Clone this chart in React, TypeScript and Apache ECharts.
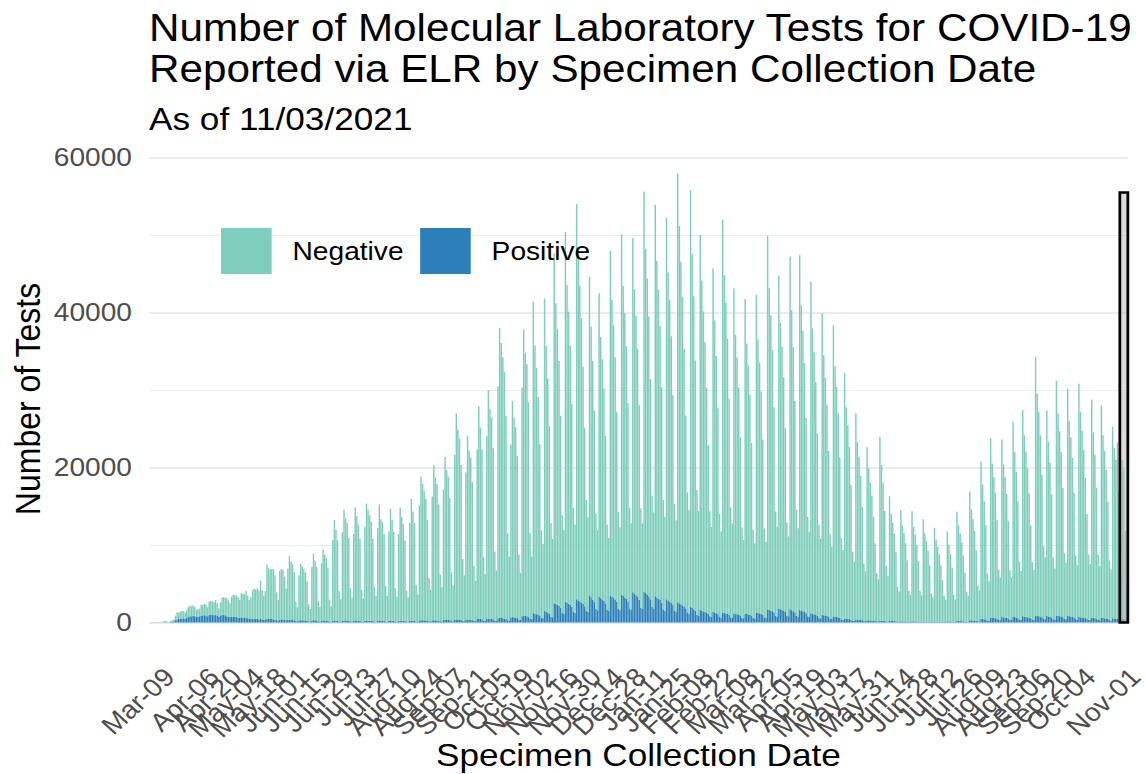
import React, { useEffect, useRef } from "react";
import * as echarts from "echarts";

// ---------- categories ----------
const FIRST_DATE = "2020-03-03";
const FIRST_TICK_LABEL_DATE = "2020-03-09";
const TICK_STEP_DAYS = 14;
const INCOMPLETE_FROM = "2021-10-29";
const INCOMPLETE_TO = "2021-11-02";
const INCOMPLETE_TOP = 55500;
const MONTHS = ["Jan", "Feb", "Mar", "Apr", "May", "Jun", "Jul", "Aug", "Sep", "Oct", "Nov", "Dec"];
const Y_TICKS = [0, 20000, 40000, 60000];

// ---------- values (hundreds of tests per day) ----------
const negativeSpring2020 = [
  0.2, 0.3, 0.3, 0.5, 0.2, 0.2,
  0.5, 0.8, 1.1, 1.3, 1.7, 0.8, 0.7,
  1.5, 2, 2.5, 6, 9, 8.5, 9.5,
  10, 9.5, 8, 10, 13, 14, 13,
  13.5, 12, 9, 10, 10, 14, 14,
  14.5, 14, 12, 17, 18, 17, 16.5,
  19, 16, 11, 17, 22, 23, 22.5,
  23.5, 21, 18, 26, 28, 28.5, 27.5,
  26, 23, 31, 31, 30.5, 34.5, 29,
  24, 27.5, 37, 39, 38.5, 39.5, 37,
  49.5, 38, 31, 36.5, 70.5, 66, 64,
  65, 64.5, 57, 36, 26.5, 63, 65,
  64, 55.5, 41,
];
const positiveSpring2020 = [
  0, 0, 0, 0, 0, 0,
  0, 0, 0.1, 0.2, 0.3, 0.2, 0.1,
  0.5, 1, 1.5, 3, 4, 4.5, 4.5,
  5, 5.5, 5, 6, 7, 8, 8,
  8.5, 8, 7, 7, 8, 9, 9,
  9.5, 9, 8, 10, 10, 10, 9.5,
  10, 9, 7, 9, 10, 10, 9.5,
  8, 7.5, 7, 7.5, 7.5, 7, 7,
  6.5, 6, 6.5, 6.5, 6, 6, 5.5,
  5, 5, 5, 5, 4.5, 4.5, 4,
  4.5, 4, 3.5, 4, 4.5, 4.5, 4.5,
  4.5, 4, 4, 3, 2.5, 4, 4,
  4, 3.5, 3,
];
const negativeSummer2020 = [
  66, 82, 75, 72, 62, 25, 18,
  58, 73, 69, 66, 62, 51, 22, 16,
  69, 86, 77, 69, 26, 19,
  74, 92, 85, 81, 69, 28, 20,
  104, 130, 117, 104, 39, 29,
  114, 143, 132, 126, 107, 43, 31,
  112, 146, 135, 124, 106, 41, 30,
  121, 151, 143, 136, 128, 106, 45, 33,
  120, 150, 131, 127, 112, 46, 33,
  115, 144, 130, 115, 43, 32,
  112, 146, 134, 125, 104, 40, 31,
];
const positiveSummer2020 = [
  3.2, 3.5, 3.3, 3.2, 2.8, 1.8, 1.6,
  2.7, 3, 2.9, 2.8, 2.6, 2.2, 1.5, 1.4,
  2.7, 3, 2.8, 2.5, 1.5, 1.4,
  2.3, 2.5, 2.4, 2.3, 2, 1.3, 1.1,
  2.3, 2.5, 2.3, 2.1, 1.3, 1.1,
  2.4, 2.6, 2.5, 2.3, 2.1, 1.4, 1.2,
  2.2, 2.4, 2.3, 2.2, 1.9, 1.2, 1.0,
  2.3, 2.5, 2.4, 2.3, 2.2, 2, 1.3, 1.1,
  2.1, 2.3, 2.2, 2.1, 1.9, 1.2, 1.0,
  2.3, 2.5, 2.3, 2.1, 1.3, 1.1,
  2.2, 2.4, 2.3, 2.2, 1.9, 1.2, 1.1,
];
const negativeFall2020 = [
  126, 157, 141, 126, 47, 35,
  148, 185, 176, 167, 157, 130, 56, 41,
  160, 200, 184, 176, 150, 60, 44,
  168, 210, 193, 185, 158, 63, 46,
  213, 266, 245, 234, 200, 80, 59,
  190, 237, 218, 209, 178, 71, 52,
  219, 274, 247, 219, 82, 60,
  236, 295, 271, 260, 221, 89, 65,
  299, 374, 355, 337, 318, 262, 112, 82,
  223, 279, 257, 246, 209, 84, 61,
  295, 369, 339, 325, 277, 111, 81,
];
const positiveFall2020 = [
  2.3, 2.5, 2.3, 2.1, 1.3, 1.1,
  2.7, 3, 2.9, 2.8, 2.6, 2.2, 1.5, 1.4,
  2.7, 3, 2.9, 2.7, 2.4, 1.5, 1.4,
  3.2, 3.5, 3.3, 3.2, 2.8, 1.8, 1.6,
  3.6, 4, 3.8, 3.6, 3.2, 2, 1.8,
  3.5, 3.9, 3.7, 3.5, 3.1, 2, 1.8,
  4.5, 5, 4.7, 4.2, 2.5, 2.2,
  4.5, 5, 4.8, 4.5, 4, 2.5, 2.2,
  5.4, 6, 5.7, 5.4, 5.1, 4.5, 3, 2.7,
  6.3, 7, 6.7, 6.3, 5.6, 3.5, 3.2,
  8.1, 9, 8.6, 8.1, 7.2, 4.5, 4.1,
];
const negativeWinter2021 = [
  402, 346, 318, 281, 221, 113, 96,
  403, 343, 302, 242, 121, 101,
  451, 388, 356, 316, 248, 126, 108,
  477, 410, 377, 334, 262, 134, 114,
  510, 449, 408, 367, 306, 230, 143, 122,
  411, 349, 308, 247, 123, 103,
  392, 337, 310, 274, 216, 110, 94,
  445, 383, 352, 312, 245, 125, 107,
  465, 400, 367, 326, 256, 130, 112,
  457, 393, 361, 320, 251, 128, 110,
  516, 444, 408, 361, 284, 144, 124,
  505, 434, 399, 354, 278, 141, 121,
  492, 423, 389, 344, 271, 138, 118,
  553, 487, 442, 398, 332, 249, 155, 133,
  538, 457, 404, 323, 161, 135,
  484, 426, 387, 348, 290, 218, 136, 116,
];
const positiveWinter2021 = [
  12, 11.4, 10.8, 10.2, 9, 6, 5.4,
  15, 14, 12.8, 11.3, 7.5, 6.8,
  25, 23.8, 22.5, 21.3, 18.8, 12.5, 11.3,
  27, 25.7, 24.3, 23, 20.3, 13.5, 12.2,
  30, 28.5, 27, 25.5, 24, 21, 15, 13.5,
  35, 32.6, 29.8, 26.3, 17.5, 15.8,
  33, 31.4, 29.7, 28, 24.8, 16.5, 14.9,
  35, 33.3, 31.5, 29.8, 26.3, 17.5, 15.8,
  36, 34.2, 32.4, 30.6, 27, 18, 16.2,
  39, 37, 35.1, 33.2, 29.3, 19.5, 17.6,
  40, 38, 36, 34, 30, 20, 18,
  34, 32.3, 30.6, 28.9, 25.5, 17, 15.3,
  30, 28.5, 27, 25.5, 22.5, 15, 13.5,
  26, 24.7, 23.4, 22.1, 20.8, 18.2, 13, 11.7,
  20, 18.6, 17, 15, 10, 9,
  16, 15.2, 14.4, 13.6, 12.8, 11.2, 8, 7.2,
];
const negativeSpring2021 = [
  443, 377, 332, 266, 133, 111,
  507, 436, 401, 355, 279, 142, 122,
  419, 360, 331, 293, 230, 117, 101,
  406, 349, 321, 284, 223, 114, 97,
  410, 353, 324, 287, 226, 115, 98,
  482, 415, 381, 337, 265, 135, 116,
  430, 370, 340, 301, 237, 120, 103,
  455, 387, 341, 273, 137, 114,
  458, 394, 362, 321, 252, 128, 110,
  428, 368, 338, 300, 235, 120, 103,
  389, 335, 307, 272, 214, 109, 93,
  376, 323, 297, 263, 207, 105, 90,
  317, 273, 250, 222, 174, 89, 76,
  266, 229, 210, 186, 146, 74, 64,
  223, 196, 178, 161, 134, 100, 62, 54,
  237, 201, 178, 142, 71, 59,
  161, 138, 127, 113, 89, 45, 39,
  144, 124, 114, 101, 79, 40, 35,
  142, 122, 112, 99, 78, 40, 34,
  132, 114, 104, 92, 73, 37, 32,
  121, 106, 97, 87, 73, 54, 34, 29,
  116, 99, 87, 70, 35, 29,
];
const positiveSpring2021 = [
  14, 13, 11.9, 10.5, 7, 6.3,
  13, 12.4, 11.7, 11, 9.8, 6.5, 5.9,
  12, 11.4, 10.8, 10.2, 9, 6, 5.4,
  11.5, 11, 10.5, 9.8, 8.7, 5.8, 5.2,
  13, 12.4, 11.7, 11, 9.8, 6.5, 5.9,
  17, 16.2, 15.3, 14.5, 12.8, 8.5, 7.7,
  18, 17.1, 16.2, 15.3, 13.5, 9, 8.1,
  17, 15.8, 14.5, 12.8, 8.5, 7.7,
  16, 15.2, 14.4, 13.6, 12, 8, 7.2,
  12, 11.4, 10.8, 10.2, 9, 6, 5.4,
  10, 9.5, 9, 8.5, 7.5, 5, 4.5,
  8, 7.6, 7.2, 6.8, 6, 4, 3.6,
  5, 4.8, 4.5, 4.3, 3.8, 2.5, 2.3,
  4, 3.8, 3.6, 3.4, 3, 2, 1.8,
  3, 2.9, 2.7, 2.6, 2.4, 2.1, 1.5, 1.4,
  2.5, 2.3, 2.1, 1.9, 1.3, 1.1,
  2, 1.9, 1.8, 1.7, 1.5, 1, 0.9,
  1.5, 1.4, 1.4, 1.3, 1.1, 0.8, 0.7,
  1.5, 1.4, 1.3, 1.3, 1.1, 0.8, 0.7,
  1.2, 1.1, 1.1, 1, 0.9, 0.6, 0.5,
  1.2, 1.1, 1.1, 1, 1, 0.8, 0.6, 0.5,
  1.5, 1.4, 1.3, 1.1, 0.8, 0.7,
];
const negativeFall2021 = [
  141, 124, 113, 102, 85, 63, 39, 34,
  166, 143, 131, 116, 91, 46, 40,
  203, 173, 152, 122, 61, 51,
  231, 199, 182, 162, 127, 65, 55,
  229, 197, 181, 160, 126, 64, 55,
  251, 213, 188, 151, 75, 63,
  266, 234, 213, 192, 160, 120, 74, 64,
  334, 287, 264, 234, 184, 94, 80,
  265, 225, 199, 159, 80, 66,
  303, 261, 239, 212, 167, 85, 73,
  293, 252, 231, 205, 161, 82, 70,
  301, 265, 241, 217, 181, 135, 84, 72,
  281, 239, 211, 169, 84, 70,
  274, 236, 216, 192, 151, 77, 66,
  247, 220, 205, 227, 165, 195, 205, 195, 115, 47,
];
const positiveFall2021 = [
  2, 1.9, 1.8, 1.7, 1.6, 1.4, 1, 0.9,
  3, 2.9, 2.7, 2.6, 2.3, 1.5, 1.4,
  5, 4.7, 4.3, 3.8, 2.5, 2.3,
  6.5, 6.2, 5.9, 5.5, 4.9, 3.3, 2.9,
  7, 6.7, 6.3, 6, 5.3, 3.5, 3.2,
  7.5, 7, 6.4, 5.6, 3.8, 3.4,
  8, 7.6, 7.2, 6.8, 6.4, 5.6, 4, 3.6,
  9, 8.6, 8.1, 7.7, 6.8, 4.5, 4.1,
  8.5, 7.9, 7.2, 6.4, 4.3, 3.8,
  9, 8.6, 8.1, 7.7, 6.8, 4.5, 4.1,
  8.5, 8.1, 7.7, 7.2, 6.4, 4.3, 3.8,
  7, 6.7, 6.3, 6, 5.6, 4.9, 3.5, 3.2,
  6.5, 6, 5.5, 4.9, 3.3, 2.9,
  6, 5.7, 5.4, 5.1, 4.5, 3, 2.7,
  5.5, 5.2, 5, 5.2, 4, 4.5, 4.8, 4.5, 3, 1.5,
];

// ---------- assembly ----------
const HUNDRED = 100;
const negativeTests = [
  ...negativeSpring2020, ...negativeSummer2020, ...negativeFall2020,
  ...negativeWinter2021, ...negativeSpring2021, ...negativeFall2021,
].map((v) => Math.round(v * HUNDRED));
const positiveTests = [
  ...positiveSpring2020, ...positiveSummer2020, ...positiveFall2020,
  ...positiveWinter2021, ...positiveSpring2021, ...positiveFall2021,
].map((v) => Math.round(v * HUNDRED));

function buildDates(startIso: string, count: number): string[] {
  const [y, m, d] = startIso.split("-").map(Number);
  const out: string[] = [];
  for (let i = 0; i < count; i++) {
    out.push(new Date(Date.UTC(y, m - 1, d + i)).toISOString().slice(0, 10));
  }
  return out;
}
const dates = buildDates(FIRST_DATE, negativeTests.length);
const firstTickIdx = dates.indexOf(FIRST_TICK_LABEL_DATE);
const incompleteStart = dates.indexOf(INCOMPLETE_FROM);
const incompleteEnd = dates.indexOf(INCOMPLETE_TO);

const fmtDate = (iso: string) => {
  const [, m, d] = iso.split("-");
  return `${MONTHS[Number(m) - 1]}-${d}`;
};

// The reference rendering is stretched horizontally; draw at 1042 px and stretch to 1146.
const BASE_W = 1042;
const STRETCH = 1146 / BASE_W;
const FONT = "'Liberation Sans', Arial, Helvetica, sans-serif";
const NEG_COLOR = "#7FCDBB";
const POS_COLOR = "#2C7FB8";

export default function App() {
  const ref = useRef<HTMLDivElement>(null);
  useEffect(() => {
    if (!ref.current) return;
    const chart = echarts.init(ref.current, null, { renderer: "svg" });
    chart.setOption({
      animation: false,
      backgroundColor: "#ffffff",
      textStyle: { fontFamily: FONT },
      title: [
        {
          text: "Number of Molecular Laboratory Tests for COVID-19\nReported via ELR by Specimen Collection Date",
          left: 135.5,
          top: 7,
          padding: 0,
          textStyle: { fontFamily: FONT, fontSize: 38.4, fontWeight: "normal", color: "#000", lineHeight: 41 },
        },
        {
          text: "As of 11/03/2021",
          left: 135.5,
          top: 100,
          padding: 0,
          textStyle: { fontFamily: FONT, fontSize: 32, fontWeight: "normal", color: "#000", lineHeight: 38 },
        },
      ],
      legend: {
        data: ["Negative", "Positive"],
        left: 201,
        top: 228,
        padding: 0,
        icon: "rect",
        itemWidth: 46,
        itemHeight: 46,
        itemGap: 15,
        selectedMode: false,
        textStyle: { fontFamily: FONT, fontSize: 25.6, color: "#000", padding: [0, 0, 0, 14] },
      },
      grid: {
        left: 135.5,
        right: 16.5,
        top: 157.5,
        bottom: 151.5,
        containLabel: false,
        outerBoundsMode: "none",
      },
      xAxis: {
        type: "category",
        data: dates,
        boundaryGap: true,
        axisLine: { show: false },
        axisTick: { show: false },
        splitLine: { show: false },
        axisLabel: {
          interval: (idx: number) => idx >= firstTickIdx && (idx - firstTickIdx) % TICK_STEP_DAYS === 0,
          rotate: 45,
          align: "right",
          verticalAlign: "top",
          margin: 41,
          showMinLabel: true,
          showMaxLabel: true,
          hideOverlap: false,
          fontFamily: FONT,
          fontSize: 25.6,
          lineHeight: 26,
          color: "#4d4d4d",
          formatter: (v: string) => fmtDate(v),
        },
        name: "Specimen Collection Date",
        nameLocation: "middle",
        nameGap: 115,
        nameMoveOverlap: false,
        nameTextStyle: { fontFamily: FONT, fontSize: 32, color: "#000", lineHeight: 36 },
      },
      yAxis: {
        type: "value",
        min: Y_TICKS[0],
        max: Y_TICKS[Y_TICKS.length - 1],
        interval: Y_TICKS[1] - Y_TICKS[0],
        axisLine: { show: false },
        axisTick: { show: false },
        axisLabel: {
          fontFamily: FONT,
          fontSize: 25.6,
          color: "#4d4d4d",
          margin: 15.5,
          formatter: (v: number) => String(v),
        },
        splitLine: { show: true, lineStyle: { color: "#ebebeb", width: 2 } },
        minorTick: { show: false, splitNumber: 2 },
        minorSplitLine: { show: true, lineStyle: { color: "#ebebeb", width: 1.1 } },
        name: "Number of Tests",
        nameLocation: "middle",
        nameRotate: 90,
        nameGap: 92,
        nameMoveOverlap: false,
        nameTextStyle: { fontFamily: FONT, fontSize: 32, color: "#000", lineHeight: 36, padding: [0, 18, 0, 0] },
      },
      series: [
        {
          name: "Positive",
          type: "bar",
          stack: "tests",
          data: positiveTests,
          barCategoryGap: "10%",
          itemStyle: { color: POS_COLOR },
          silent: true,
        },
        {
          name: "Negative",
          type: "bar",
          stack: "tests",
          data: negativeTests,
          barCategoryGap: "10%",
          itemStyle: { color: NEG_COLOR },
          silent: true,
        },
        {
          name: "Incomplete",
          type: "custom",
          z: 10,
          silent: true,
          encode: { x: 0, y: 1 },
          data: [[incompleteStart, INCOMPLETE_TOP, incompleteEnd]],
          renderItem: (_params: any, api: any) => {
            const s = api.value(0);
            const top = api.value(1);
            const e = api.value(2);
            const bw = api.size([1, 0])[0];
            const p0 = api.coord([s, top]);
            const p1 = api.coord([e, 0]);
            return {
              type: "rect",
              shape: { x: p0[0] - bw / 2, y: p0[1], width: p1[0] - p0[0] + bw, height: p1[1] - p0[1] },
              style: { fill: "rgba(190,190,190,0.55)", stroke: "#000", lineWidth: 2.5 },
            };
          },
        },
      ],
    });
    return () => chart.dispose();
  }, []);

  return (
    <div style={{ position: "fixed", left: 0, top: 0, width: 1146, height: 774, overflow: "hidden", background: "#fff" }}>
      <div
        ref={ref}
        style={{ width: BASE_W, height: 774, transform: `scaleX(${STRETCH})`, transformOrigin: "0 0" }}
      />
    </div>
  );
}
